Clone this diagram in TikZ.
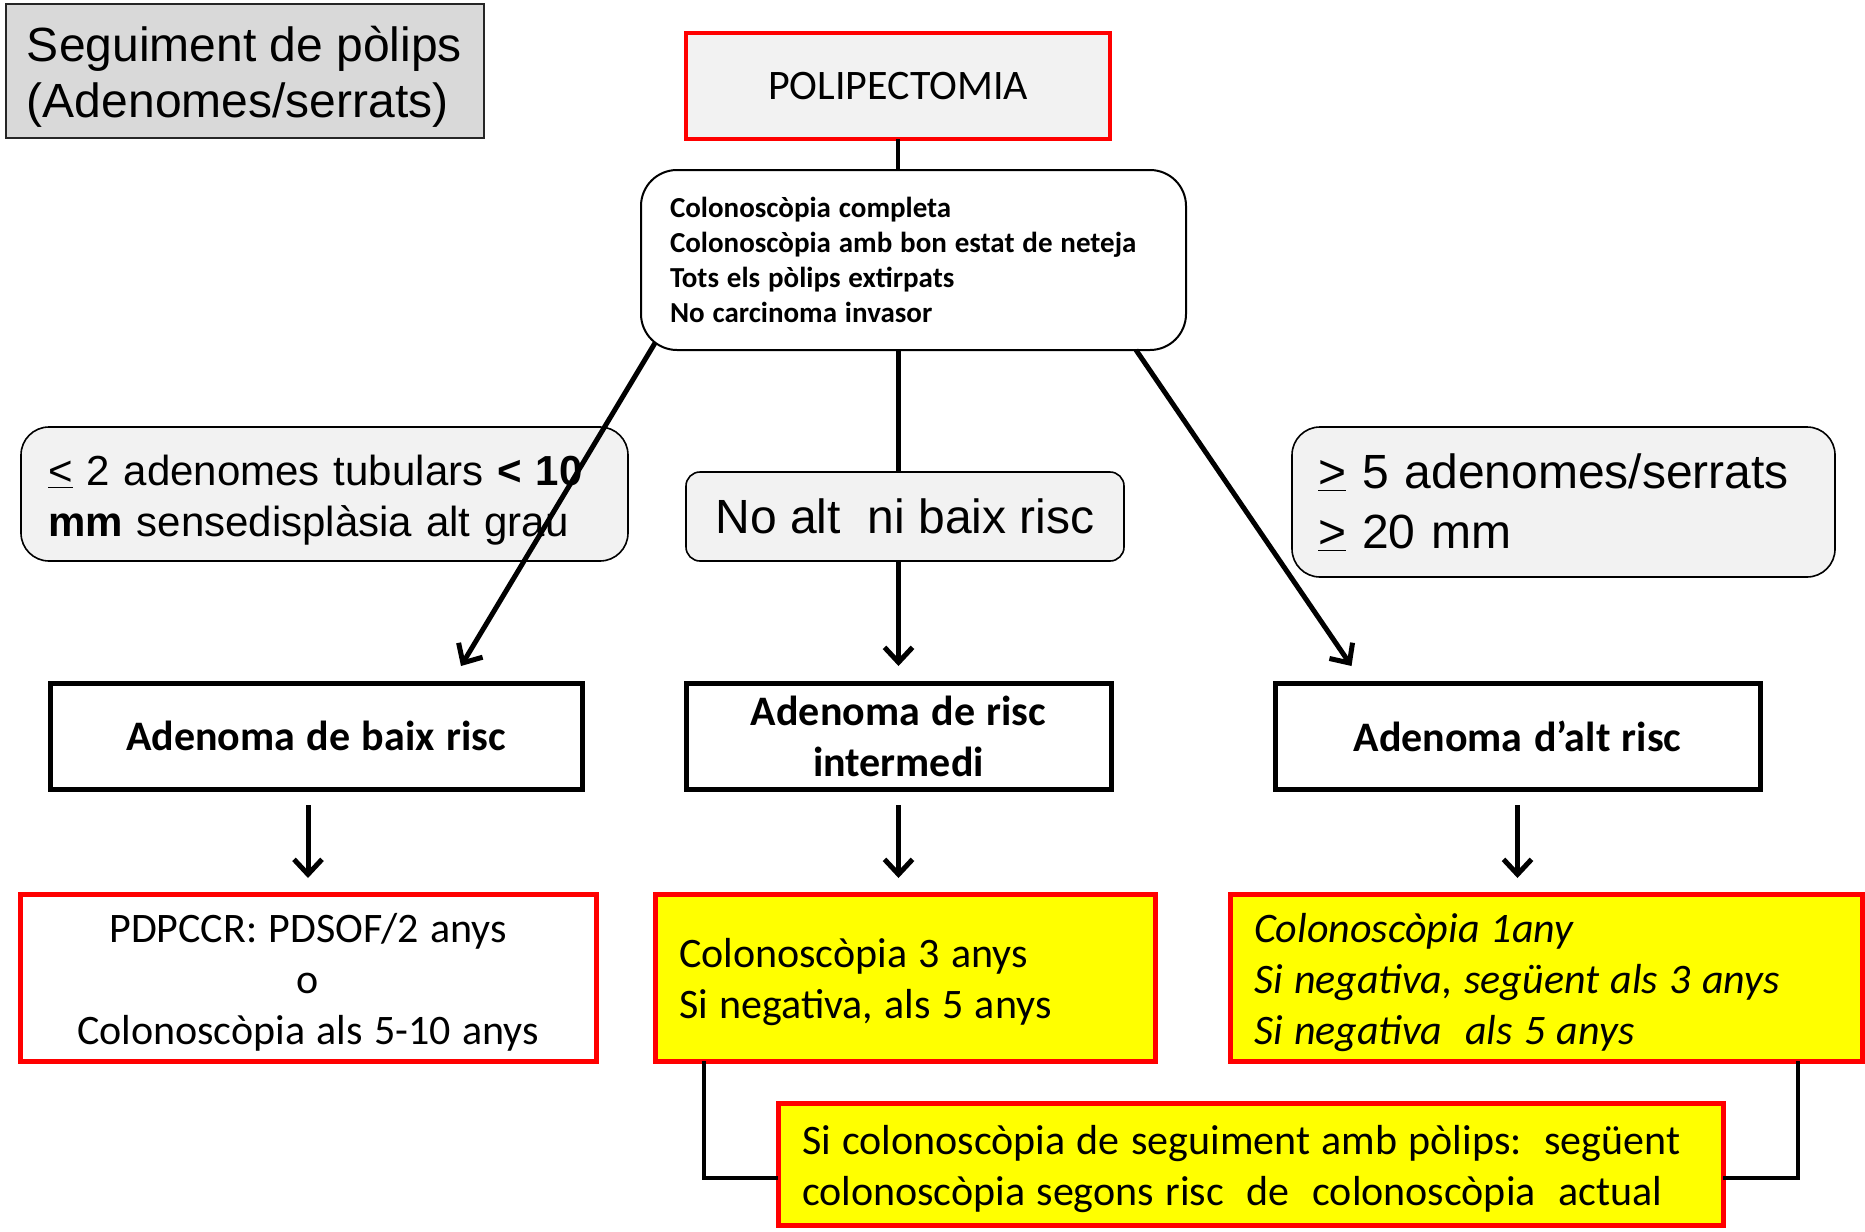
\documentclass[tikz,border=0pt]{standalone}
\usepackage{fontspec}
\setmainfont{Carlito}[WordSpace=1.2]
\newfontfamily\arialf{Liberation Sans}
\usetikzlibrary{arrows.meta,calc}
\definecolor{redb}{HTML}{FF0000}
\definecolor{yel}{HTML}{FFFF00}
\definecolor{lg}{HTML}{F2F2F2}
\definecolor{tg}{HTML}{D9D9D9}
\newcommand\tpl[2]{\raisebox{0pt}[\dimexpr\height+#1\relax]{\spaceskip=0pt\relax\xspaceskip=0pt\relax #2}}
\newcommand\mln[1]{\mbox{\spaceskip=0pt\relax\xspaceskip=0pt\relax #1}}
\begin{document}
\begin{tikzpicture}[x=1pt,y=-1pt,
  base/.style={inner sep=0pt, outer sep=0pt},
  titlebox/.style={base, draw=black!85, line width=2pt, fill=tg, align=left,
    font=\arialf\fontsize{48}{56}\selectfont},
  polbox/.style={base, draw=redb, line width=4pt, fill=lg,
    font=\fontsize{42}{50}\selectfont},
  critbox/.style={base, draw=black, line width=2pt, fill=white, rounded corners=36pt,
    align=left, font=\bfseries\fontsize{29}{35}\selectfont},
  condbox/.style={base, draw=black, line width=1.6pt, fill=lg, rounded corners=28pt,
    align=left},
  riskbox/.style={base, draw=black, line width=5pt, fill=white, align=center,
    minimum height=106pt, font=\bfseries\fontsize{42}{51}\selectfont},
  resbox/.style={base, draw=redb, line width=5pt, fill=yel, align=left,
    minimum height=167pt, font=\fontsize{42}{51}\selectfont},
  ln/.style={line width=4.5pt},
  arr/.style={line width=5pt, -{Straight Barb[length=15pt,width=28pt]}}
]
\useasboundingbox (0,0) rectangle (1865,1231);

\node[titlebox, minimum width=478pt, minimum height=134pt, text width=436pt]
  (title) at (245,71) {\tpl{12pt}{Seguiment de pòlips}\\\mln{(Adenomes/serrats)}};

\node[polbox, minimum width=424pt, minimum height=106pt] (polip) at (898,86) {POLIPECTOMIA};

\node[critbox, minimum width=545pt, minimum height=180pt, text width=487pt]
  (crit) at (913.5,260) {\mln{Colonoscòpia completa}\\\mln{Colonoscòpia amb bon estat de neteja}\\\mln{Tots els pòlips extirpats}\\\mln{No carcinoma invasor}};

\node[condbox, minimum width=607pt, minimum height=134pt, text width=553pt,
  font=\arialf\fontsize{42}{51}\selectfont]
  (lowc) at (324.5,494) {\raisebox{0pt}[\dimexpr\height+12pt\relax]{\underline{<} 2 adenomes tubulars \textbf{< 10}}\\\mbox{\textbf{mm} sensedisplàsia alt grau}};

\node[condbox, rounded corners=14pt, minimum width=438pt, minimum height=89pt,
  font=\arialf\fontsize{48}{56}\selectfont]
  (midc) at (905,516.5) {No alt\ \ ni baix risc};

\node[condbox, minimum width=543pt, minimum height=150pt, text width=491pt,
  font=\arialf\fontsize{48}{60}\selectfont]
  (highc) at (1563.5,502) {\mbox{\underline{>} 5 adenomes/serrats}\\\mbox{\underline{>} 20 mm}};

\node[riskbox, minimum width=532pt] (lowr) at (316,736) {Adenoma de baix risc};
\node[riskbox, minimum width=425pt] (midr) at (898.5,736) {Adenoma de risc\\intermedi};
\node[riskbox, minimum width=485pt] (highr) at (1517.5,736) {Adenoma d’alt risc};

\node[resbox, fill=white, align=center, minimum width=576pt] (lowb) at (308,977.5)
  {\tpl{10pt}{PDPCCR: PDSOF/2 anys}\\o\\\mln{Colonoscòpia als 5-10 anys}};
\node[resbox, minimum width=500pt, text width=452pt] (midb) at (905,977.5)
  {\tpl{10pt}{Colonoscòpia 3 anys}\\\mln{Si negativa, als 5 anys}};
\node[resbox, minimum width=632pt, text width=584pt, font=\itshape\fontsize{42}{51}\selectfont]
  (highb) at (1546,977.5)
  {\tpl{10pt}{Colonoscòpia 1any}\\\mln{Si negativa, següent als 3 anys}\\\mln{Si negativa\ \ als 5 anys}};

\node[resbox, minimum width=945pt, minimum height=122pt, text width=897pt] (note) at (1250.5,1164)
  {\tpl{10pt}{Si colonoscòpia de seguiment amb pòlips:\ \ següent}\\\mln{colonoscòpia segons risc\ \ de\ \ colonoscòpia\ \ actual}};

% connectors
\draw[ln] (polip.south) -- (polip.south |- crit.north);
\draw[arr] ($(crit.south west)+(14,-7)$) -- ($(lowr.north)+(145,-17)$);
\draw[ln] (midr.north |- crit.south) -- (midr.north |- midc.north);
\draw[arr] (midr.north |- midc.south) -- ($(midr.north)+(0,-17)$);
\draw[arr] ($(crit.south east)+(-50,0)$) -- ($(highr.north)+(-166,-17)$);

\draw[arr] ($(lowr.south -| lowb.north)+(0,16)$) -- ($(lowb.north)+(0,-16)$);
\draw[arr] ($(midr.south)+(0,16)$) -- ($(midr.south |- midb.north)+(0,-16)$);
\draw[arr] ($(highr.south)+(0,16)$) -- ($(highr.south |- highb.north)+(0,-16)$);

\draw[ln] ($(midb.south west)+(49,0)$) |- ($(note.west)+(0,14)$);
\draw[ln] ($(highb.south west)+(568,0)$) |- ($(note.east)+(0,14)$);
\end{tikzpicture}
\end{document}
